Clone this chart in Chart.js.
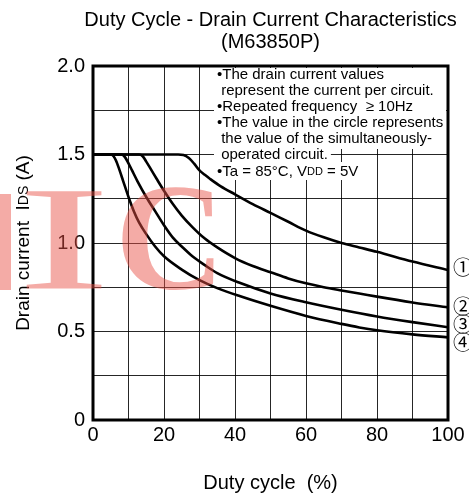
<!DOCTYPE html>
<html><head><meta charset="utf-8">
<script src="https://cdn.jsdelivr.net/npm/chart.js@4/dist/chart.umd.min.js"></script>
<style>html,body{margin:0;padding:0;background:#fff}</style>
</head><body>
<canvas id="c" width="469" height="495"></canvas>
<script>
// ---- data ----
const curveLabels = ['①','②','③','④'];
const duty1 = [0,24,25.5,27,28.5,30,31.5,33,36,40,45,50,55,60,65,70,75,80,90,100];
const amps1 = [1.5,1.5,1.497,1.48,1.448,1.41,1.385,1.362,1.32,1.275,1.22,1.17,1.12,1.07,1.032,1.0,0.975,0.95,0.895,0.847];
const duty2 = [0,13,14,15,16.5,18,20,22.5,25,28,31.5,35,40,45,50,55,60,65,70,75,80,90,100];
const amps2 = [1.5,1.5,1.49,1.46,1.41,1.36,1.295,1.22,1.155,1.09,1.025,0.975,0.915,0.87,0.835,0.80,0.772,0.75,0.732,0.715,0.697,0.664,0.636];
const duty3 = [0,8,9,10,11,12.5,15,17.5,20,22.5,25,28,31.5,35,41.3,50,60,70,80,90,100];
const amps3 = [1.5,1.5,1.485,1.45,1.41,1.35,1.26,1.18,1.10,1.03,0.98,0.925,0.875,0.83,0.775,0.715,0.665,0.623,0.585,0.553,0.524];
const duty4 = [0,5,5.8,6.5,7.5,8.5,10,11.5,13,15,17.5,20,25,30,35,41.3,50,60,70,75,80,90,100];
const amps4 = [1.5,1.5,1.49,1.465,1.41,1.35,1.26,1.18,1.115,1.05,0.98,0.925,0.85,0.79,0.745,0.70,0.645,0.588,0.543,0.523,0.507,0.484,0.467];
const xTickLabels = ['0','20','40','60','80','100'];
const yTickLabels = ['0','0.5','1.0','1.5','2.0'];
const titleLines = ['Duty Cycle - Drain Current Characteristics','(M63850P)'];
const xTitle = 'Duty cycle  (%)';
const yTitleParts = [{t:'Drain current  I'},{t:'DS',s:14},{t:' (A)'}];
const noteLines = [
  [{t:'•The drain current values'}],
  [{t:' represent the current per circuit.'}],
  [{t:'•Repeated frequency  ≥ 10Hz'}],
  [{t:'•The value in the circle represents'}],
  [{t:' the value of the simultaneously-'}],
  [{t:' operated circuit.'}],
  [{t:'•Ta = 85°C, V'},{t:'DD',s:11},{t:' = 5V'}]
];

const xs = [duty1,duty2,duty3,duty4], ys = [amps1,amps2,amps3,amps4];
const FONT = '"Liberation Sans", Arial, sans-serif';
const NOTE_SIZE = 15;

function richWidth(ctx, parts, size){
  let w=0; parts.forEach(p=>{ctx.font=(p.s||size)+'px '+FONT; w+=ctx.measureText(p.t).width;}); return w;
}
function drawRich(ctx, parts, x, y, size){
  let cx=x; parts.forEach(p=>{ctx.font=(p.s||size)+'px '+FONT; ctx.fillText(p.t,cx,y); cx+=ctx.measureText(p.t).width;});
}
function fitLetter(ctx, ch, font, l, r, t, b){
  ctx.font = font;
  ctx.textAlign='left'; ctx.textBaseline='alphabetic';
  const m = ctx.measureText(ch);
  const bw = m.actualBoundingBoxLeft + m.actualBoundingBoxRight;
  const bh = m.actualBoundingBoxAscent + m.actualBoundingBoxDescent;
  ctx.save(); ctx.translate(l,t); ctx.scale((r-l)/bw,(b-t)/bh);
  ctx.fillText(ch, m.actualBoundingBoxLeft, m.actualBoundingBoxAscent);
  ctx.restore();
}

const decor = {
  id:'decor',
  beforeDatasetsDraw(chart){
    const ctx=chart.ctx, a=chart.chartArea;
    ctx.save(); ctx.fillStyle='#fff';
    ctx.fillRect(214, a.top+2, a.right-214-2, 147-a.top);
    const w6 = richWidth(ctx, noteLines[5], NOTE_SIZE), w7 = richWidth(ctx, noteLines[6], NOTE_SIZE);
    ctx.fillRect(214, 146, w6+217-214+3, 16);
    ctx.fillRect(214, 162, w7+217-214+3, 18);
    ctx.restore();
  },
  afterDatasetsDraw(chart){
    const ctx=chart.ctx, a=chart.chartArea, yS=chart.scales.y;
    ctx.save();
    ctx.lineWidth=3; ctx.strokeStyle='#000';
    ctx.strokeRect(a.left, a.top, a.right-a.left, a.bottom-a.top);
    ctx.fillStyle='#000'; ctx.textBaseline='middle'; ctx.textAlign='left';
    const noteY=[75,91,107,123,139,155,172];
    noteLines.forEach((ln,i)=>drawRich(ctx, ln, 217, noteY[i], NOTE_SIZE));
    const offs=[-3,-1,-3,5];
    ctx.font='20px "Noto Sans CJK JP", "DejaVu Sans", sans-serif';
    ys.forEach((arr,i)=>{
      ctx.fillText(curveLabels[i], a.right+5, yS.getPixelForValue(arr[arr.length-1])+offs[i]);
    });
    ctx.restore();
  },
  afterDraw(chart){
    const ctx=chart.ctx, a=chart.chartArea;
    ctx.save();
    ctx.fillStyle='#000'; ctx.textAlign='center'; ctx.textBaseline='middle';
    ctx.font='20px '+FONT;
    const cx=(a.left+a.right)/2;
    ctx.fillText(titleLines[0], cx, 20);
    ctx.fillText(titleLines[1], cx, 42);
    ctx.fillText(xTitle, cx, 483);
    const w=richWidth(ctx, yTitleParts, 19);
    ctx.translate(24,(a.top+a.bottom)/2); ctx.rotate(-Math.PI/2);
    ctx.textAlign='left';
    drawRich(ctx, yTitleParts, -w/2, 0, 19);
    ctx.restore();
    // watermark
    ctx.save();
    ctx.fillStyle='rgba(232,80,70,0.48)';
    fitLetter(ctx,'N','bold 100px "Liberation Sans", sans-serif',-95,12,192,290);
    fitLetter(ctx,'I','100px "Liberation Serif", serif',25,102,192,290);
    fitLetter(ctx,'C','bold 100px "Liberation Serif", serif',121,214,188,292);
    ctx.restore();
  }
};

new Chart(document.getElementById('c'), {
  type:'scatter',
  data:{datasets: xs.map((d,i)=>({
    label: curveLabels[i],
    data: d.map((x,j)=>({x:x, y:ys[i][j]})),
    showLine:true, borderColor:'#000', borderWidth:2.6, pointRadius:0,
    cubicInterpolationMode:'monotone', fill:false
  }))},
  options:{
    responsive:false, animation:false, devicePixelRatio:1,
    layout:{padding:{top:66,right:21,left:0,bottom:0}},
    plugins:{legend:{display:false}, title:{display:false}, tooltip:{enabled:false}},
    scales:{
      x:{type:'linear', min:0, max:100,
        afterFit(s){s.height=75;},
        border:{display:false},
        grid:{color:'rgba(0,0,0,0.85)', lineWidth:1, drawTicks:false},
        ticks:{stepSize:10, autoSkip:false, maxRotation:0, padding:3, color:'#000',
          font:{family:'"Liberation Sans", Arial, sans-serif', size:20},
          callback:(v)=>{const k=xTickLabels.indexOf(String(v)); return k>=0?xTickLabels[k]:'';}}},
      y:{type:'linear', min:0, max:2,
        afterFit(s){s.width=93;},
        border:{display:false},
        grid:{color:'rgba(0,0,0,0.85)', lineWidth:1, drawTicks:false},
        ticks:{stepSize:0.25, autoSkip:false, padding:8, color:'#000',
          font:{family:'"Liberation Sans", Arial, sans-serif', size:20},
          callback:(v)=>{const r=Math.round(v*2); return Math.abs(v*2-r)<1e-6 ? yTickLabels[r] : '';}}}
    }
  },
  plugins:[decor]
});
</script>
</body></html>
